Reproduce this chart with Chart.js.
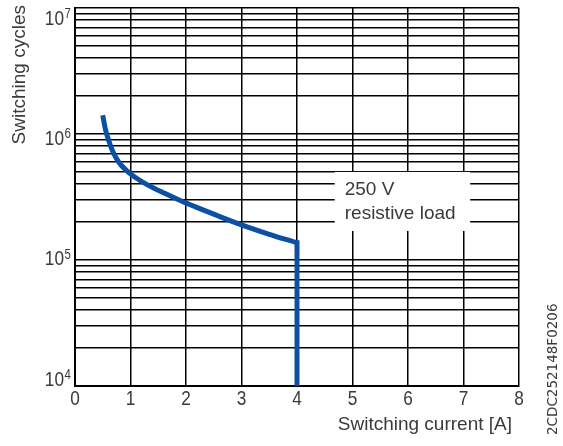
<!DOCTYPE html>
<html>
<head>
<meta charset="utf-8">
<script src="https://cdn.jsdelivr.net/npm/chart.js@4.4.0/dist/chart.umd.min.js"></script>
<style>
  html, body { margin: 0; padding: 0; background: #fff; }
  canvas { display: block; }
</style>
</head>
<body>
<canvas id="chart" width="563" height="446"></canvas>
<script>
//곡선 데이터 (스위칭 전류 [A] -> 스위칭 횟수)
const currentA = [0.5, 0.546, 0.595, 0.685, 0.787, 0.924, 1.075, 1.315, 1.616, 1.915, 2.216, 2.5, 3.0, 3.5, 4.0];
const cycles = [1.41e6, 1.1e6, 9.2e5, 7.2e5, 6.0e5, 5.14e5, 4.56e5, 3.93e5, 3.38e5, 2.94e5, 2.59e5, 2.31e5, 1.9e5, 1.6e5, 1.37e5];

//4 A에서 수직으로 떨어지는 부분
const dropCurrent = [4, 4];
const dropCycles = [1.37e5, 1e4];

//축 눈금
const xTicks = [0, 1, 2, 3, 4, 5, 6, 7, 8];
const yTicks = [
  1e4, 2e4, 3e4, 4e4, 5e4, 6e4, 7e4, 8e4, 9e4,
  1e5, 2e5, 3e5, 4e5, 5e5, 6e5, 7e5, 8e5, 9e5,
  1e6, 2e6, 3e6, 4e6, 5e6, 6e6, 7e6, 8e6, 9e6,
  1e7
];
const yExponents = [4, 5, 6, 7];

//축 제목, 주석, 도면 번호
const xTitle = "Switching current [A]";
const yTitle = "Switching cycles";
const noteLines = ["250 V", "resistive load"];
const noteBoxX = [4.68, 7.12];
const noteBoxY = [5.0e5, 1.7e5];
const docCode = "2CDC252148F0206";

const textColor = "#3a3a3a";
const sansFont = "'Liberation Sans', Arial, sans-serif";
const blue = "#0b50a2";
const narrow = 0.82;

const toPoints = (xs, ys) => xs.map((x, i) => ({ x: x, y: ys[i] }));

//좁은 글꼴 흉내 (가로로 눌러서 그림)
const drawNarrow = (ctx, text, x, y, size, align) => {
  ctx.save();
  ctx.translate(x, y);
  ctx.scale(narrow, 1);
  ctx.font = size + "px " + sansFont;
  ctx.textAlign = align;
  ctx.fillText(text, 0, 0);
  ctx.restore();
};

//흰 주석 박스, 눈금 라벨, 도면 번호를 그리는 plugin
const decorPlugin = {
  id: "decor",
  beforeDatasetsDraw(chart) {
    const { ctx, scales: { x, y } } = chart;
    const left = x.getPixelForValue(noteBoxX[0]);
    const right = x.getPixelForValue(noteBoxX[1]);
    const top = y.getPixelForValue(noteBoxY[0]);
    const bottom = y.getPixelForValue(noteBoxY[1]);
    ctx.save();
    ctx.fillStyle = "#fff";
    ctx.fillRect(left, top, right - left, bottom - top);
    ctx.fillStyle = textColor;
    ctx.font = "19px " + sansFont;
    ctx.textAlign = "left";
    ctx.textBaseline = "middle";
    noteLines.forEach((line, i) => {
      ctx.fillText(line, left + 10, top + 18 + i * 24);
    });
    ctx.restore();
  },
  afterDraw(chart) {
    const { ctx, chartArea, scales: { x, y } } = chart;
    ctx.save();
    ctx.fillStyle = textColor;
    ctx.textBaseline = "middle";

    //x축 숫자
    xTicks.forEach(v => {
      drawNarrow(ctx, String(v), x.getPixelForValue(v), chartArea.bottom + 13, 21, "center");
    });

    //10^n 라벨 (원본처럼 살짝 아래로 밀려 있음)
    yExponents.forEach(exp => {
      const py = y.getPixelForValue(Math.pow(10, exp));
      const cy = chartArea.bottom - 6 - (chartArea.bottom - py) * 0.955;
      drawNarrow(ctx, "10", 64, cy, 21, "right");
      drawNarrow(ctx, String(exp), 64.5, cy - 5, 14, "left");
    });

    //축 제목
    ctx.font = "19px " + sansFont;
    ctx.textAlign = "right";
    ctx.fillText(xTitle, chartArea.right - 7, 425);

    ctx.save();
    ctx.translate(20, chartArea.top - 3);
    ctx.rotate(-Math.PI / 2);
    ctx.textAlign = "right";
    ctx.fillText(yTitle, 0, 0);
    ctx.restore();

    //오른쪽 세로 도면 번호
    ctx.translate(553, 435);
    ctx.rotate(-Math.PI / 2);
    ctx.font = "13.5px 'DejaVu Sans', sans-serif";
    ctx.textAlign = "left";
    ctx.fillText(docCode, 0, 0);
    ctx.restore();
  }
};

new Chart(document.getElementById("chart"), {
  type: "scatter",
  data: {
    datasets: [
      {
        data: toPoints(currentA, cycles),
        showLine: true,
        borderColor: blue,
        borderWidth: 5,
        cubicInterpolationMode: "monotone",
        pointRadius: 0,
        borderCapStyle: "butt"
      },
      {
        data: toPoints(dropCurrent, dropCycles),
        showLine: true,
        borderColor: blue,
        borderWidth: 5,
        tension: 0,
        pointRadius: 0,
        borderCapStyle: "square",
        clip: { left: 5, top: 5, right: 5, bottom: 0 }
      }
    ]
  },
  options: {
    responsive: false,
    animation: false,
    layout: { padding: { top: 8, right: 44, left: 0, bottom: 0 } },
    plugins: {
      legend: { display: false },
      tooltip: { enabled: false }
    },
    scales: {
      x: {
        type: "linear",
        min: 0,
        max: 8,
        afterBuildTicks: s => { s.ticks = xTicks.map(v => ({ value: v })); },
        afterFit: s => { s.height = 60; },
        ticks: { display: false },
        grid: { color: "#000", lineWidth: 1.5, drawTicks: false },
        border: { color: "#000", width: 2 }
      },
      y: {
        type: "logarithmic",
        min: 1e4,
        max: 1e7,
        afterBuildTicks: s => { s.ticks = yTicks.map(v => ({ value: v })); },
        afterFit: s => { s.width = 75; },
        ticks: { display: false },
        grid: { color: "#000", lineWidth: 1.5, drawTicks: false },
        border: { color: "#000", width: 2 }
      }
    }
  },
  plugins: [decorPlugin]
});
</script>
</body>
</html>
